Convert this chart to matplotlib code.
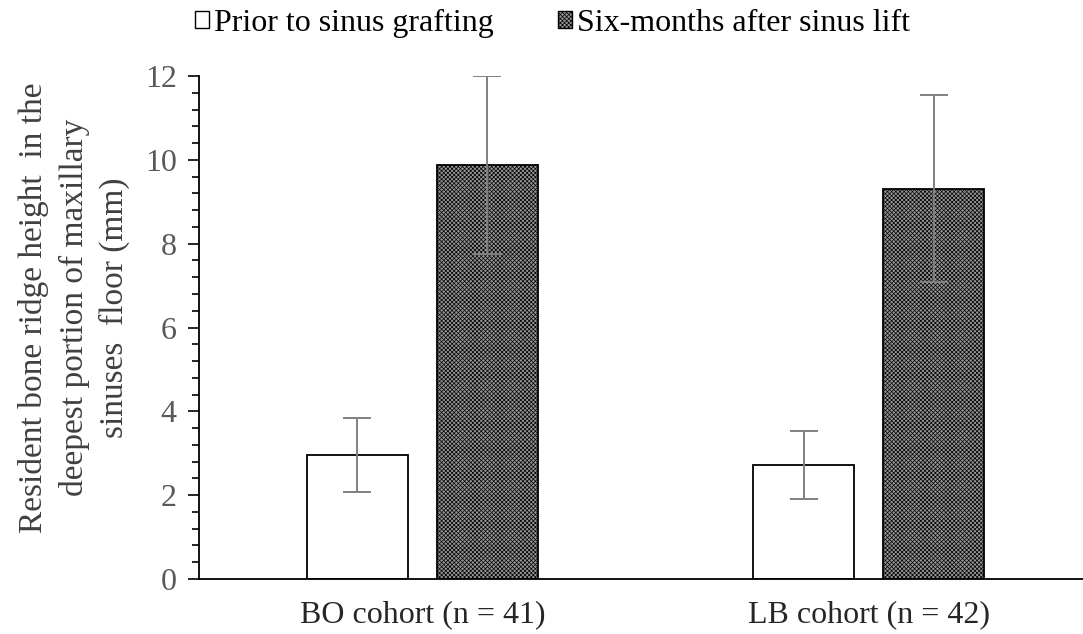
import matplotlib.pyplot as plt
import matplotlib.patches as mpatches
import numpy as np

categories = ['BO cohort (n = 41)', 'LB cohort (n = 42)']
series_names = ['Prior to sinus grafting', 'Six-months after sinus lift']
prior_mean = [2.96, 2.72]
prior_sd = [0.88, 0.81]
after_mean = [9.88, 9.31]
after_sd = [2.12, 2.23]

plt.rcParams['font.family'] = ['Liberation Serif', 'DejaVu Serif']
plt.rcParams['hatch.linewidth'] = 0.5
plt.rcParams['hatch.color'] = '#404040'

fig = plt.figure(figsize=(10.83, 6.34), dpi=100)
ax = fig.add_axes([0.1838, 0.0868, 0.8162, 0.7932])

x = np.arange(len(categories))
width = 0.226
offset = 0.146

err_kw = dict(ecolor='#808080', elinewidth=1.4, capsize=10, capthick=1.4)
ax.bar(x - offset, prior_mean, width, yerr=prior_sd, color='white',
       edgecolor='black', linewidth=1.3, error_kw=err_kw, zorder=2)
ax.bar(x + offset, after_mean, width, yerr=after_sd, color='#959595',
       edgecolor='black', linewidth=1.3, hatch='xxxxxxxx', error_kw=err_kw, zorder=2)

ax.set_xlim(-0.5, 1.48)
ax.set_ylim(0, 12)
ax.set_yticks(np.arange(0, 13, 2))
ax.set_yticks(np.arange(0, 12.01, 0.4), minor=True)
ax.set_xticks(x)
ax.set_xticklabels(categories, fontsize=23, color='#262626')
ax.tick_params(axis='x', length=0, pad=15)
ax.tick_params(axis='y', which='major', length=8, width=1.2, labelsize=23,
               labelcolor='#595959', pad=8)
ax.tick_params(axis='y', which='minor', length=5, width=1.2)

for side in ['top', 'right']:
    ax.spines[side].set_visible(False)
ax.spines['left'].set_linewidth(1.3)
ax.spines['bottom'].set_linewidth(1.3)

ax.set_ylabel('Resident bone ridge height  in the\ndeepest portion of maxillary\nsinuses  floor (mm)',
              fontsize=24, color='#404040', linespacing=1.38)
ax.yaxis.set_label_coords(-0.078, 0.54)

handles = [
    mpatches.Patch(facecolor='white', edgecolor='black', linewidth=1.0),
    mpatches.Patch(facecolor='#959595', edgecolor='black', linewidth=1.0, hatch='xxxxxxxx'),
]
fig.legend(handles, series_names, loc='center', bbox_to_anchor=(0.51, 0.963), ncol=2,
           frameon=False, fontsize=23, handlelength=0.45, handleheight=0.45,
           handletextpad=0.15, columnspacing=2.0)

fig.savefig('out.png', dpi=100)
